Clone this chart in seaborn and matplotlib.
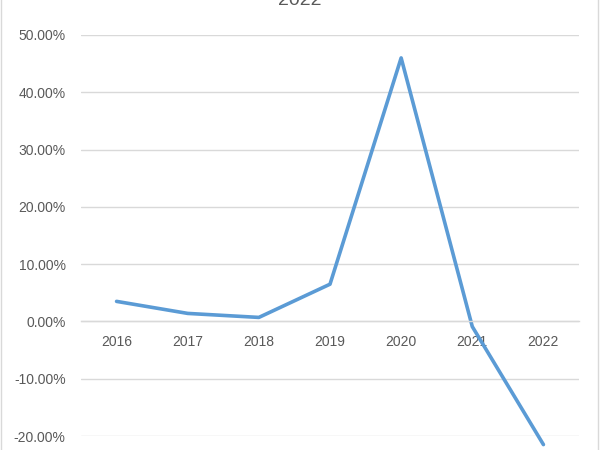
import matplotlib
matplotlib.use('Agg')
import matplotlib.pyplot as plt
import pandas as pd
import seaborn as sns
from matplotlib.patches import Rectangle
from matplotlib.ticker import FuncFormatter, MultipleLocator

# Data
years = ['2016', '2017', '2018', '2019', '2020', '2021', '2022']
growth = [3.5, 1.4, 0.7, 6.5, 46.0, -0.9, -21.5]
title = '2022'

df = pd.DataFrame({'year': years, 'growth': growth})

sns.set_style('white')
plt.rcParams['font.family'] = ['Liberation Sans', 'DejaVu Sans']

grey_text = '#595959'
grid_col = '#D9D9D9'

fig = plt.figure(figsize=(6, 4.5), dpi=100)
ax = fig.add_axes([81 / 600, 1 - 436 / 450, (579 - 81) / 600, (436 - 35) / 450])

sns.lineplot(data=df, x='year', y='growth', ax=ax, color='#5B9BD5',
             linewidth=2.6, sort=False, clip_on=False)

ax.set_xlim(-0.5, len(years) - 0.5)
ax.set_ylim(-20, 50)
ax.yaxis.set_major_locator(MultipleLocator(10))
ax.yaxis.set_major_formatter(FuncFormatter(lambda v, p: f'{v:.2f}%'))
ax.grid(axis='y', color=grid_col, linewidth=1)
ax.set_axisbelow(True)

for side in ['top', 'right', 'left']:
    ax.spines[side].set_visible(False)
ax.spines['bottom'].set_position(('data', 0))
ax.spines['bottom'].set_color(grid_col)
ax.spines['bottom'].set_linewidth(1)

ax.tick_params(axis='x', length=0, pad=10, labelsize=10, labelcolor=grey_text)
ax.tick_params(axis='y', length=0, pad=11, labelsize=10, labelcolor=grey_text)
ax.set_xlabel('')
ax.set_ylabel('')

fig.text(0.5, 1 - 5 / 450, title, ha='center', va='baseline',
         fontsize=14, color=grey_text)

# chart border
fig.patches.append(Rectangle((1 / 600, -0.1), 597 / 600, 1.2,
                             transform=fig.transFigure, fill=False,
                             edgecolor='#D9D9D9', linewidth=1))

fig.savefig('out.png', dpi=100)
